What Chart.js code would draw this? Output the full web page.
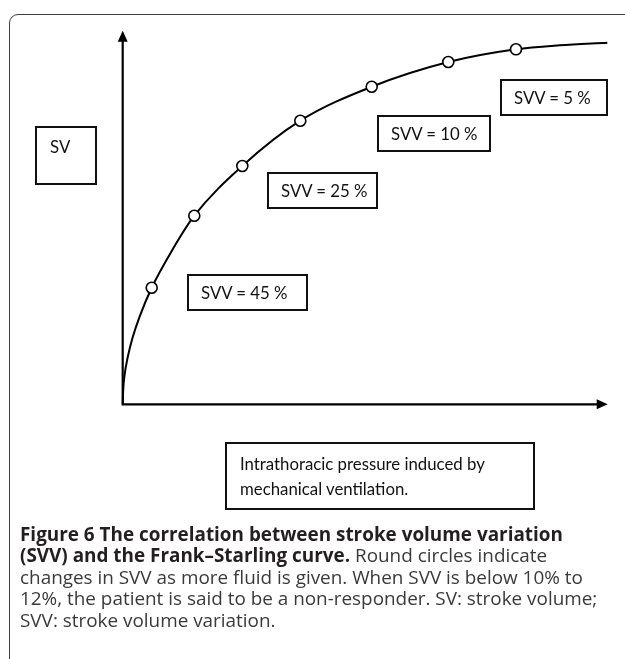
<!DOCTYPE html>
<html><head><meta charset="utf-8">
<script src="https://cdn.jsdelivr.net/npm/chart.js@4.4.1/dist/chart.umd.min.js"></script>
<style>
html,body{margin:0;padding:0;background:#fff;width:625px;height:659px;overflow:hidden;}
#wrap{position:relative;width:625px;height:659px;overflow:hidden;}
#frame{position:absolute;left:9px;top:14px;width:700px;height:700px;border:1.5px solid #404040;border-radius:9px;}
#cv{position:absolute;left:0;top:0;}
.box{position:absolute;box-sizing:border-box;border:2px solid #111;font-family:Lato,sans-serif;font-size:16.8px;color:#111;white-space:nowrap;}
.mid{display:flex;align-items:center;padding-left:12px;}
.caption{position:absolute;left:20px;top:524px;font-family:'Open Sans',sans-serif;font-size:18.9px;line-height:21.4px;color:#3a3a3a;white-space:nowrap;}
.caption b{color:#231f20;font-weight:700;}
</style></head>
<body>
<div id="wrap">
<div id="frame"></div>
<canvas id="cv" width="625" height="659"></canvas>
<div id="labels"></div>
<div class="caption" id="caption"></div>
</div>
<script>
// ---- data ----
const curveX  = [0, 0.10, 0.41, 1.03, 2.06, 3.51, 5.98, 10.31, 14.76, 24.66, 36.62, 51.34, 67.13, 81.09, 90.10, 99.92];
const curveY  = [0, 3.75, 8.03, 12.58, 17.93, 23.55, 31.21, 41.49, 50.48, 63.79, 75.91, 85.01, 91.62, 95.02, 96.09, 96.79];
const circleX = [5.98, 14.76, 24.66, 36.62, 51.34, 67.13, 81.09];
const circleY = [31.21, 50.48, 63.79, 75.91, 85.01, 91.62, 95.02];
const svvLabels = ['SVV = 45 %', 'SVV = 25 %', 'SVV = 10 %', 'SVV = 5 %'];
const yAxisLabel = 'SV';
const xAxisLabel = ['Intrathoracic pressure induced by', 'mechanical ventilation.'];
const captionBold = ['Figure 6 The correlation between stroke volume variation', '(SVV) and the Frank\u2013Starling curve.'];
const captionRest = [' Round circles indicate', 'changes in SVV as more fluid is given. When SVV is below 10% to', '12%, the patient is said to be a non-responder. SV: stroke volume;', 'SVV: stroke volume variation.'];

// ---- label boxes (pixel layout) ----
const boxLayout = [
  {l:187, t:274, w:121, h:37},
  {l:267, t:172, w:111, h:37},
  {l:377, t:115, w:114, h:37},
  {l:500, t:79,  w:108, h:37}
];
const labels = document.getElementById('labels');
svvLabels.forEach((s,i)=>{
  const b = boxLayout[i];
  const d = document.createElement('div');
  d.className='box mid';
  d.style.cssText += `left:${b.l}px;top:${b.t}px;width:${b.w}px;height:${b.h}px;`;
  d.textContent = s;
  labels.appendChild(d);
});
const sv = document.createElement('div');
sv.className='box';
sv.style.cssText += 'left:35px;top:126px;width:62px;height:59px;padding:8px 0 0 13px;line-height:22px;';
sv.textContent = yAxisLabel;
labels.appendChild(sv);
const xl = document.createElement('div');
xl.className='box';
xl.style.cssText += 'left:225px;top:442px;width:310px;height:68px;padding:7px 0 0 13px;line-height:25px;';
xl.innerHTML = xAxisLabel.join('<br>');
labels.appendChild(xl);

document.getElementById('caption').innerHTML =
  '<b>'+captionBold[0]+'</b><br><b>'+captionBold[1]+'</b>'+captionRest[0]+'<br>'+captionRest.slice(1).join('<br>');

// ---- axes with arrowheads drawn from the scales ----
const axesPlugin = {
  id:'arrowAxes',
  beforeDatasetsDraw(chart){
    const {ctx, scales:{x,y}} = chart;
    const x0 = x.getPixelForValue(0), x1 = x.getPixelForValue(100);
    const y0 = y.getPixelForValue(0), y1 = y.getPixelForValue(100);
    ctx.save();
    ctx.strokeStyle='#000'; ctx.fillStyle='#000'; ctx.lineWidth=2.2;
    ctx.beginPath();
    ctx.moveTo(x0, y0+1); ctx.lineTo(x0, y1+8);
    ctx.moveTo(x0-1, y0); ctx.lineTo(x1-8, y0);
    ctx.stroke();
    ctx.beginPath();
    ctx.moveTo(x0, y1); ctx.lineTo(x0-5, y1+11); ctx.lineTo(x0+5, y1+11); ctx.closePath();
    ctx.moveTo(x1, y0); ctx.lineTo(x1-11, y0-5); ctx.lineTo(x1-11, y0+5); ctx.closePath();
    ctx.fill();
    ctx.restore();
  }
};

new Chart(document.getElementById('cv'), {
  type:'line',
  data:{
    datasets:[
      {data: circleX.map((v,i)=>({x:v,y:circleY[i]})), showLine:false, pointRadius:5.5,
       pointBackgroundColor:'#fff', pointBorderColor:'#000', pointBorderWidth:1.6, order:0},
      {data: curveX.map((v,i)=>({x:v,y:curveY[i]})), borderColor:'#000', borderWidth:2,
       pointRadius:0, cubicInterpolationMode:'monotone', fill:false, order:1}
    ]
  },
  options:{
    responsive:false, animation:false, clip:false,
    layout:{padding:{left:122.7, top:30.7, right:17.3, bottom:254.7}},
    plugins:{legend:{display:false}, tooltip:{enabled:false}},
    scales:{
      x:{type:'linear', min:0, max:100, display:false},
      y:{type:'linear', min:0, max:100, display:false}
    }
  },
  plugins:[axesPlugin]
});
</script>
</body></html>
